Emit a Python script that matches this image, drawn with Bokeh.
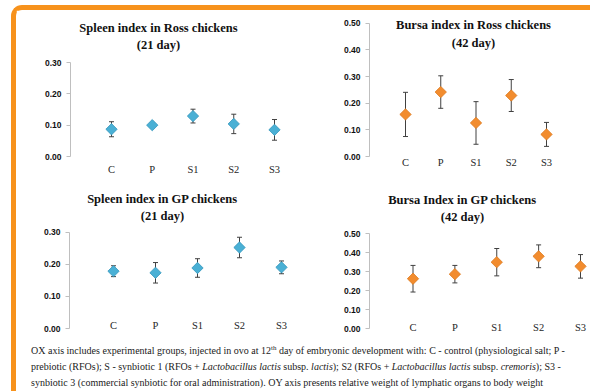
from bokeh.plotting import figure
from bokeh.models import (Range1d, FixedTicker, Whisker, TeeHead, ColumnDataSource,
                          Label, Div, NumeralTickFormatter)
from bokeh.layouts import row, column
from bokeh.embed import file_html
from bokeh.resources import INLINE

# ---------------- data ----------------
groups = ["C", "P", "S1", "S2", "S3"]

spleen_ross_mean = [0.087, 0.100, 0.129, 0.104, 0.085]
spleen_ross_err = [0.024, 0.008, 0.022, 0.031, 0.033]

bursa_ross_mean = [0.158, 0.242, 0.126, 0.229, 0.083]
bursa_ross_err = [0.083, 0.061, 0.080, 0.060, 0.045]

spleen_gp_mean = [0.179, 0.174, 0.189, 0.253, 0.191]
spleen_gp_err = [0.017, 0.032, 0.029, 0.032, 0.020]

bursa_gp_mean = [0.262, 0.286, 0.349, 0.380, 0.327]
bursa_gp_err = [0.070, 0.046, 0.072, 0.060, 0.062]

spleen_ticks = [0.0, 0.1, 0.2, 0.3]
bursa_ticks = [0.0, 0.1, 0.2, 0.3, 0.4, 0.5]

titles = [
    ("Spleen index in Ross chickens", "(21 day)"),
    ("Bursa index in Ross chickens", "(42 day)"),
    ("Spleen index in GP chickens", "(21 day)"),
    ("Bursa Index in GP chickens", "(42 day)"),
]

caption = ('OX axis includes experimental groups, injected in ovo at 12<sup style="font-size:7px">th</sup> day of '
           'embryonic development with: C - control (physiological salt; P -<br>'
           'prebiotic (RFOs); S - synbiotic 1 (RFOs + <i>Lactobacillus lactis</i> subsp. <i>lactis</i>); '
           'S2 (RFOs + <i>Lactobacillus lactis</i> subsp. <i>cremoris</i>); S3 -<br>'
           'synbiotic 3 (commercial synbiotic for oral administration). OY axis presents relative '
           'weight of lymphatic organs to body weight')

BLUE, BLUE_LINE = "#4AB0D5", "#3597BD"
ORANGE, ORANGE_LINE = "#F28C2E", "#DD7A1E"
FRAME = "#F7921C"


def panel(means, errs, yticks, title, fill, edge, box, frame, centers, yscale, tpos, standoff):
    fx, fy, w, h = box
    fl, fr, ft, fb = frame
    c0, c4 = centers
    y0, yk = yscale
    kx = (c4 - c0) / (len(groups) - 1)
    xr = Range1d(-(c0 - fl) / kx, (len(groups) - 1) + (fr - c4) / kx)
    yr = Range1d((y0 - fb) / yk, (y0 - ft) / yk)
    p = figure(width=w, height=h, x_range=xr, y_range=yr, output_backend="svg",
               toolbar_location=None,
               min_border_left=fl - fx, min_border_right=fx + w - fr,
               min_border_top=ft - fy, min_border_bottom=fy + h - fb)
    p.outline_line_color = None
    p.xgrid.visible = False
    p.ygrid.visible = False
    p.background_fill_color = "white"
    p.border_fill_color = "white"

    idx = list(range(len(groups)))
    src = ColumnDataSource(dict(
        x=idx, y=means,
        upper=[m + e for m, e in zip(means, errs)],
        lower=[m - e for m, e in zip(means, errs)]))
    wk = Whisker(source=src, base="x", upper="upper", lower="lower", dimension="height",
                 line_color="#404040", line_width=1, level="underlay",
                 upper_head=TeeHead(size=5, line_color="#404040", line_width=1),
                 lower_head=TeeHead(size=5, line_color="#404040", line_width=1))
    p.add_layout(wk)
    p.scatter("x", "y", source=src, marker="square", angle=0.785398, size=8,
              fill_color=fill, line_color=edge, line_width=0.8)

    xa = p.xaxis[0]
    xa.ticker = FixedTicker(ticks=idx)
    xa.major_label_overrides = {i: g for i, g in enumerate(groups)}
    xa.axis_line_color = None
    xa.major_tick_line_color = None
    xa.minor_tick_line_color = None
    xa.major_label_standoff = standoff
    xa.major_label_text_font = "Liberation Serif"
    xa.major_label_text_font_size = "10.5px"
    xa.major_label_text_color = "#262626"

    ya = p.yaxis[0]
    ya.ticker = FixedTicker(ticks=yticks)
    ya.formatter = NumeralTickFormatter(format="0.00")
    ya.bounds = (0, max(yticks))
    ya.axis_line_color = "#BFBFBF"
    ya.major_tick_line_color = "#BFBFBF"
    ya.major_tick_out = 4
    ya.major_tick_in = 0
    ya.minor_tick_line_color = None
    ya.major_label_standoff = 5
    ya.major_label_text_font = "Liberation Sans"
    ya.major_label_text_font_style = "bold"
    ya.major_label_text_font_size = "8.5px"
    ya.major_label_text_color = "#111111"

    tx, ty1, ty2 = tpos
    lx = xr.start + (tx - fl) / kx
    for txt, ty in zip(title, (ty1, ty2)):
        p.add_layout(Label(x=lx, y=(y0 - ty) / yk, text=txt, text_align="center",
                           text_baseline="middle", text_font="Liberation Serif",
                           text_font_style="bold", text_font_size="12.5px",
                           text_color="#111111"))
    return p


pA = panel(spleen_ross_mean, spleen_ross_err, spleen_ticks, titles[0], BLUE, BLUE_LINE,
           box=(16, 10, 305, 170), frame=(70, 321, 12, 156), centers=(111, 274),
           yscale=(156, 313.3), tpos=(158, 27, 44), standoff=1)
pB = panel(bursa_ross_mean, bursa_ross_err, bursa_ticks, titles[1], ORANGE, ORANGE_LINE,
           box=(321, 10, 269, 170), frame=(369, 590, 12, 158), centers=(405, 546),
           yscale=(158, 270.0), tpos=(473, 25, 43), standoff=-6)
pC = panel(spleen_gp_mean, spleen_gp_err, spleen_ticks, titles[2], BLUE, BLUE_LINE,
           box=(16, 180, 305, 164), frame=(69, 321, 182, 331), centers=(113, 281),
           yscale=(331, 326.7), tpos=(162, 199, 216), standoff=-15)
pD = panel(bursa_gp_mean, bursa_gp_err, bursa_ticks, titles[3], ORANGE, ORANGE_LINE,
           box=(321, 180, 269, 164), frame=(369, 590, 182, 328), centers=(412.5, 580),
           yscale=(328, 190.0), tpos=(462, 199, 216), standoff=-13)

cap = Div(width=574, height=46,
          text=('<div style="font-family:\'Liberation Serif\';font-size:10px;line-height:16px;'
                'padding-left:10px;position:relative;top:-9px;white-space:nowrap;color:#1a1a1a">'
                + caption + '</div>'))

layout = column(row(pA, pB, spacing=0), row(pC, pD, spacing=0), cap, spacing=0,
                styles={"border-left": f"5px solid {FRAME}", "border-top": f"5px solid {FRAME}",
                        "border-top-left-radius": "11px", "margin-left": "11px",
                        "margin-top": "5px", "background": "white"})

open("out.html", "w").write(file_html(layout, INLINE))
